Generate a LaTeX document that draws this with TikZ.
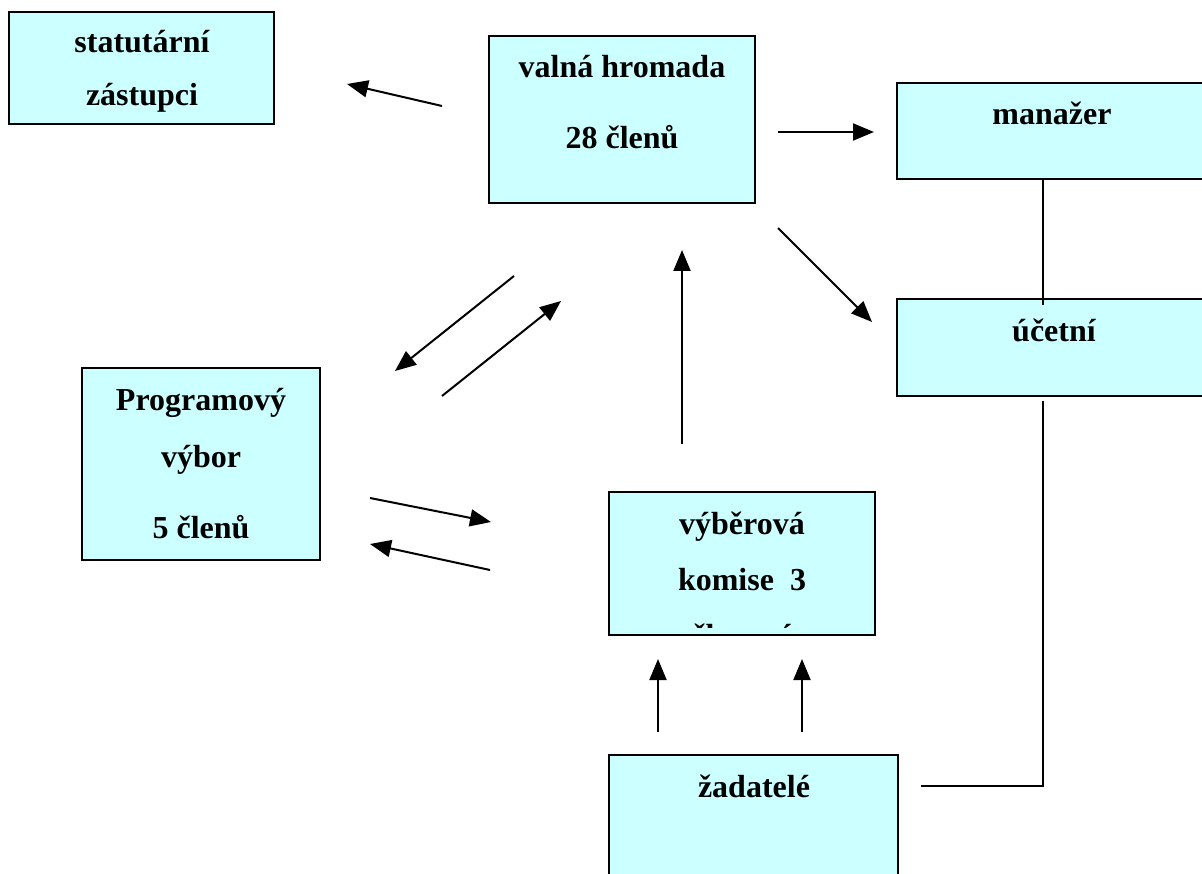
\documentclass[tikz,border=0pt]{standalone}
\usepackage{fontspec}
\setmainfont{Liberation Serif}
\usetikzlibrary{arrows.meta}
\definecolor{boxfill}{HTML}{CCFFFF}
\begin{document}
\begin{tikzpicture}[x=1pt,y=-1pt,
  box/.style={draw=black, line width=2.2pt, fill=boxfill, anchor=north west, inner sep=0pt, outer sep=0pt},
  lbl/.style={font=\fontsize{32}{32}\selectfont\bfseries, anchor=base, inner sep=0pt},
  conn/.style={line width=2pt},
  arr/.style={conn, -{Triangle[length=21pt,width=17pt]}}]
\useasboundingbox (0,0) rectangle (1202,874);
\clip (0,0) rectangle (1202,874);
% boxes
\node[box, minimum width=265pt, minimum height=112pt] (stat) at (9,12) {};
\node[box, minimum width=266pt, minimum height=167pt] (valna) at (489,36) {};
\node[box, minimum width=330pt, minimum height=96pt] (manazer) at (897,83) {};
\node[box, minimum width=330pt, minimum height=97pt] (ucetni) at (897,299) {};
\node[box, minimum width=238pt, minimum height=192pt] (prog) at (82,368) {};
\node[box, minimum width=266pt, minimum height=143pt] (vyber) at (609,492) {};
\node[box, minimum width=289pt, minimum height=150pt] (zad) at (609,755) {};
% labels
\node[lbl] (stat1) at (142,53) {statutární};
\node[lbl] (stat2) at (142,106) {zástupci};
\node[lbl] (valna1) at (622,78) {valná hromada};
\node[lbl] (valna2) at (622,149) {28 členů};
\node[lbl] (man1) at (1052,125) {manažer};
\node[lbl] (uc1) at (1054,342) {účetní};
\node[lbl] (prog1) at (201,410) {Programový};
\node[lbl] (prog2) at (201,467) {výbor};
\node[lbl] (prog3) at (201,538) {5 členů};
\node[lbl] (vyb1) at (742,534) {výběrová};
\node[lbl] (vyb2) at (742,590) {komise~~3};
\begin{scope}
  \clip (611,494) rectangle (873,627);
  \node[lbl] (vyb3) at (742,646) {členové};
\end{scope}
\node[lbl] (zad1) at (754,797) {žadatelé};
% connector end points
\coordinate (a1s) at (442,106); \coordinate (a1e) at (347,84);
\coordinate (a2s) at (778,132); \coordinate (a2e) at (874,132);
\coordinate (a3s) at (778,228); \coordinate (a3e) at (872,322);
\coordinate (l1s) at (1043,180); \coordinate (l1e) at (1043,305);
\coordinate (l2s) at (1043,401); \coordinate (l2m) at (1043,786); \coordinate (l2e) at (921,786);
\coordinate (a4s) at (514,276); \coordinate (a4e) at (395,371);
\coordinate (a5s) at (442,396); \coordinate (a5e) at (561,301);
\coordinate (a6s) at (682,444); \coordinate (a6e) at (682,250);
\coordinate (a7s) at (370,498); \coordinate (a7e) at (491,522);
\coordinate (a8s) at (490,570); \coordinate (a8e) at (370,544);
\coordinate (a9s) at (658,732); \coordinate (a9e) at (658,659);
\coordinate (a10s) at (802,732); \coordinate (a10e) at (802,659);
% connectors
\draw[arr] (a1s) -- (a1e);
\draw[arr] (a2s) -- (a2e);
\draw[arr] (a3s) -- (a3e);
\draw[conn] (l1s) -- (l1e);
\draw[conn] (l2s) -- (l2m) -- (l2e);
\draw[arr] (a4s) -- (a4e);
\draw[arr] (a5s) -- (a5e);
\draw[arr] (a6s) -- (a6e);
\draw[arr] (a7s) -- (a7e);
\draw[arr] (a8s) -- (a8e);
\draw[arr] (a9s) -- (a9e);
\draw[arr] (a10s) -- (a10e);
\end{tikzpicture}
\end{document}
